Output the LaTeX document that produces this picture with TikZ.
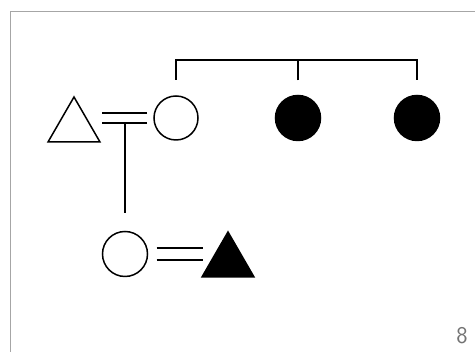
\documentclass[tikz,border=0pt]{standalone}
\usetikzlibrary{shapes.geometric}
\begin{document}
\begin{tikzpicture}[x=1pt,y=1pt,
  line width=1.5pt,
  ocirc/.style={circle,draw,inner sep=0pt,outer sep=0pt,minimum size=#1},
  fcirc/.style={circle,draw,fill=black,inner sep=0pt,outer sep=0pt,minimum size=#1},
  tri/.style={regular polygon,regular polygon sides=3,draw,inner sep=0pt,outer sep=0pt,minimum size=60pt},
  frameline/.style={draw=black!35,line width=1pt}]
\useasboundingbox (0,0) rectangle (475,352);
\fill[white] (0,0) rectangle (475,352);
\draw[frameline] (10,0) -- (10,340) -- (475,340);
% nodes
\node[tri] (t1) at (74,225) {};
\node[ocirc=44pt] (c1) at (176,234) {};
\node[fcirc=45pt] (c2) at (298,234) {};
\node[fcirc=45pt] (c3) at (417,234) {};
\node[ocirc=45pt] (c4) at (125,98) {};
\node[tri,fill=black] (t2) at (228,90) {};
\node[text=black!55,font=\sffamily\fontsize{24}{24}\selectfont] (n8) at (462,16) {8};
% marriage 1
\coordinate (m1a) at ([shift={(-7,5)}]c1.west);
\coordinate (m1b) at ([shift={(-7,-5)}]c1.west);
\draw (m1a) -- ++(-45,0);
\draw (m1b) -- ++(-45,0);
% descent line
\coordinate (d1) at (c4.north |- m1b);
\coordinate (d2) at ([yshift=18]c4.north);
\draw (d1) -- (d2);
% marriage 2
\coordinate (m2a) at ([shift={(9,6)}]c4.east);
\coordinate (m2b) at ([shift={(9,-6)}]c4.east);
\draw (m2a) -- ++(46,0);
\draw (m2b) -- ++(46,0);
% sibling bracket
\coordinate (b1) at ([yshift=16]c1.north);
\coordinate (b2) at ([yshift=15]c2.north);
\coordinate (b3) at ([yshift=15]c3.north);
\draw (b1) -- ++(0,20) -| (b3);
\draw (b2) -- ++(0,21);
\end{tikzpicture}
\end{document}
